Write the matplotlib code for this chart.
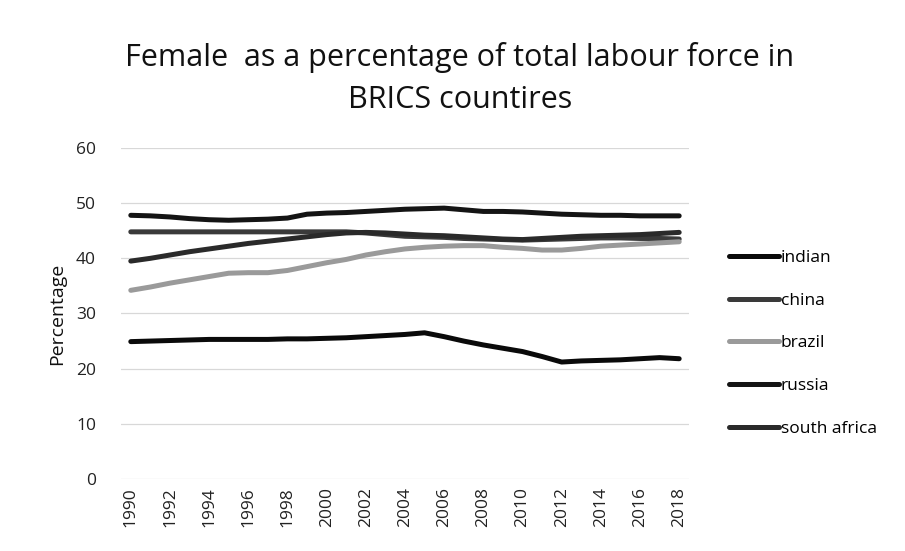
import matplotlib
matplotlib.use("Agg")
import matplotlib.pyplot as plt

years = list(range(1990, 2019))
indian = [24.9, 25.0, 25.1, 25.2, 25.3, 25.3, 25.3, 25.3, 25.4, 25.4, 25.5, 25.6, 25.8, 26.0, 26.2, 26.5,
          25.8, 25.0, 24.3, 23.7, 23.1, 22.2, 21.2, 21.4, 21.5, 21.6, 21.8, 22.0, 21.8]
china = [44.8, 44.8, 44.8, 44.8, 44.8, 44.8, 44.8, 44.8, 44.8, 44.8, 44.8, 44.8, 44.6, 44.3, 44.0, 43.9,
         43.8, 43.6, 43.5, 43.4, 43.3, 43.4, 43.5, 43.6, 43.7, 43.7, 43.6, 43.6, 43.5]
brazil = [34.2, 34.8, 35.5, 36.1, 36.7, 37.3, 37.4, 37.4, 37.8, 38.5, 39.2, 39.8, 40.6, 41.2, 41.7, 42.0,
          42.2, 42.3, 42.3, 42.0, 41.8, 41.5, 41.5, 41.8, 42.2, 42.4, 42.6, 42.8, 43.0]
russia = [47.8, 47.7, 47.5, 47.2, 47.0, 46.9, 47.0, 47.1, 47.3, 48.0, 48.2, 48.3, 48.5, 48.7, 48.9, 49.0,
          49.1, 48.8, 48.5, 48.5, 48.4, 48.2, 48.0, 47.9, 47.8, 47.8, 47.7, 47.7, 47.7]
south_africa = [39.5, 40.0, 40.6, 41.2, 41.7, 42.2, 42.7, 43.1, 43.5, 43.9, 44.3, 44.6, 44.7, 44.6, 44.4, 44.2,
                44.1, 43.9, 43.7, 43.5, 43.4, 43.6, 43.8, 44.0, 44.1, 44.2, 44.3, 44.5, 44.7]

series = [("indian", indian, "#0a0a0a"),
          ("china", china, "#3a3a3a"),
          ("brazil", brazil, "#9a9a9a"),
          ("russia", russia, "#141414"),
          ("south africa", south_africa, "#2a2a2a")]

plt.rcParams['font.family'] = ['Open Sans', 'DejaVu Sans']

fig = plt.figure(figsize=(9.05, 5.51), dpi=100)
ax = fig.add_axes([0.1337, 0.1307, 0.6276, 0.6007])

x = list(range(len(years)))
for name, vals, col in series:
    ax.plot(x, vals, color=col, lw=3.6, label=name, solid_capstyle='round')

ax.set_xlim(-0.5, len(years) - 0.5)
ax.set_ylim(0, 60)
ax.set_yticks(range(0, 61, 10))
ax.set_xticks(x[::2])
ax.set_xticklabels([str(y) for y in years[::2]], rotation=90, fontsize=12.5, color='#222222')
ax.tick_params(axis='y', labelsize=12.5, colors='#222222', length=0, pad=18)
ax.tick_params(axis='x', length=0, pad=6)
ax.grid(axis='y', color='#d8d8d8', lw=0.9)
ax.set_axisbelow(True)
for s in ax.spines.values():
    s.set_visible(False)
ax.set_ylabel("Percentage", fontsize=14, color='#111111', labelpad=7)

fig.text(0.508, 0.895, "Female  as a percentage of total labour force in",
         ha='center', va='center', fontsize=22, color='#111111')
fig.text(0.508, 0.818, "BRICS countires", ha='center', va='center', fontsize=22, color='#111111')

leg = fig.legend(loc='upper left', bbox_to_anchor=(0.788, 0.575), frameon=False,
                 fontsize=12.5, handlelength=2.9, handletextpad=0.1, labelspacing=1.53)

fig.savefig("out.png", dpi=100)
